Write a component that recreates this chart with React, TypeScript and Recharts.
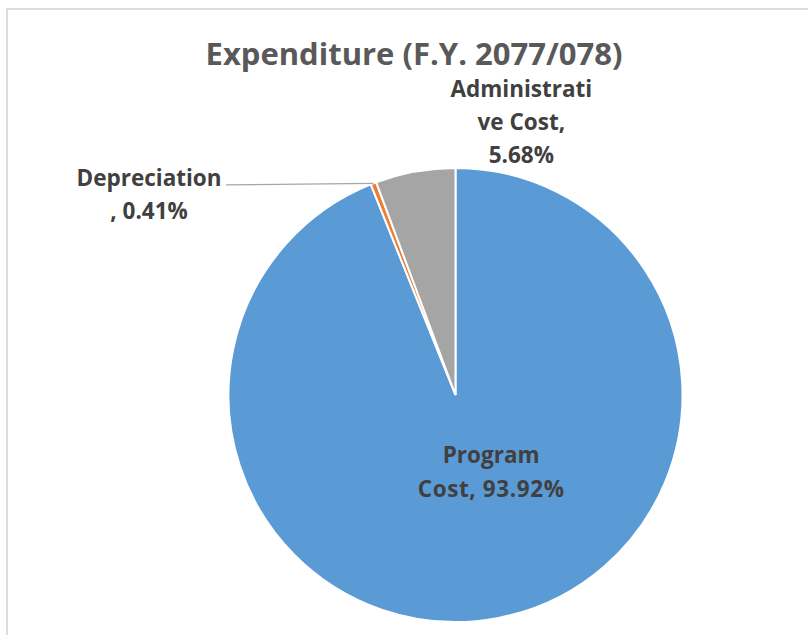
import React from 'react';
import { PieChart, Pie, Cell } from 'recharts';

const categories = ['Program Cost', 'Depreciation', 'Administrative Cost'];
const shares = [93.92, 0.41, 5.68];
const colors = ['#5B9BD5', '#ED7D31', '#A5A5A5'];

const title = 'Expenditure (F.Y. 2077/078)';
const labelFont = '"Open Sans", sans-serif';

const data = categories.map((name, i) => ({ name, value: shares[i] }));

const RAD = Math.PI / 180;

function renderLabel(props: any) {
  const { cx, cy, midAngle, outerRadius, index, value } = props;
  const R = outerRadius;
  const pct = `${Number(value).toFixed(2)}%`;
  const common = {
    fill: '#404040',
    fontSize: 22.5,
    fontWeight: 700,
    fontFamily: labelFont,
    textAnchor: 'middle' as const,
  };

  if (index === 0) {
    // inside the big slice
    const x = cx + R * 0.157;
    const y = cy + R * 0.3;
    return (
      <text {...common} x={x} y={y}>
        <tspan x={x} dy={0}>Program</tspan>
        <tspan x={x} dy={34} letterSpacing={0.6}>{`Cost, ${pct}`}</tspan>
      </text>
    );
  }

  if (index === 1) {
    // outside, left, with a leader line
    const ex = cx + R * Math.cos(-midAngle * RAD);
    const ey = cy + R * Math.sin(-midAngle * RAD);
    const tx = cx - R * 1.35;
    const ty = cy - R * 0.92;
    return (
      <g>
        <polyline
          points={`${ex},${ey} ${tx + 77},${ey + 1.5}`}
          stroke="#A6A6A6"
          strokeWidth={1.25}
          fill="none"
        />
        <text {...common} x={tx} y={ty}>
          <tspan x={tx} dy={0}>Depreciation</tspan>
          <tspan x={tx} dy={33}>{`, ${pct}`}</tspan>
        </text>
      </g>
    );
  }

  // administrative cost, above the pie
  const x = cx + R * 0.29;
  const y = cy - R - 71;
  return (
    <text {...common} x={x} y={y}>
      <tspan x={x} dy={0}>Administrati</tspan>
      <tspan x={x} dy={33}>ve Cost,</tspan>
      <tspan x={x} dy={33}>{pct}</tspan>
    </text>
  );
}

export default function App() {
  return (
    <div style={{ position: 'absolute', left: 0, top: 0, width: 808, height: 635, overflow: 'hidden', background: '#fff' }}>
      <div
        style={{
          position: 'absolute',
          left: 6,
          top: 8,
          width: 840,
          height: 660,
          border: '2px solid #DCDCDC',
        }}
      />
      <div
        style={{
          position: 'absolute',
          left: 0,
          top: 33,
          width: 828,
          textAlign: 'center',
          fontFamily: labelFont,
          fontWeight: 700,
          fontSize: 31,
          lineHeight: '40px',
          color: '#595959',
        }}
      >
        {title}
      </div>
      <div style={{ position: 'absolute', left: 0, top: 0 }}>
        <PieChart width={808} height={635} margin={{ top: 0, right: 0, bottom: 0, left: 0 }}>
          <Pie
            data={data}
            dataKey="value"
            nameKey="name"
            cx={455.5}
            cy={395}
            outerRadius={227}
            startAngle={90}
            endAngle={-270}
            stroke="#FFFFFF"
            strokeWidth={2}
            label={renderLabel}
            labelLine={false}
            isAnimationActive={false}
          >
            {data.map((d, i) => (
              <Cell key={d.name} fill={colors[i]} />
            ))}
          </Pie>
        </PieChart>
      </div>
    </div>
  );
}
